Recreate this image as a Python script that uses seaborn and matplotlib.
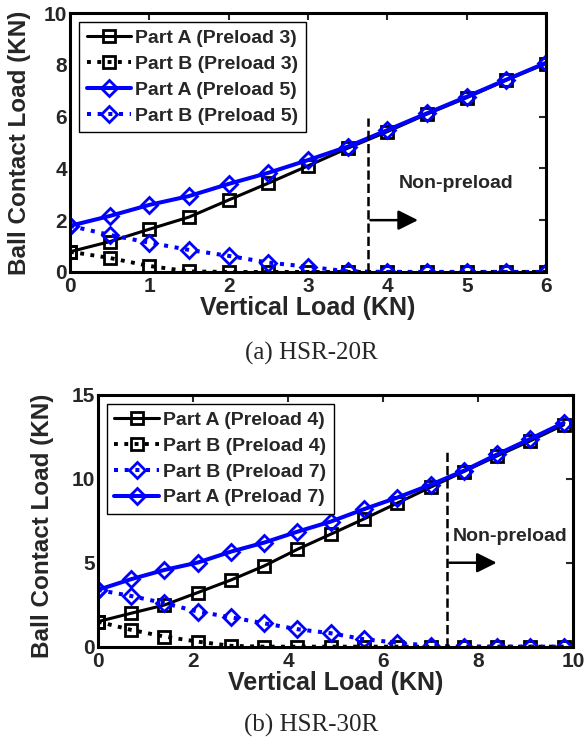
import numpy as np
import pandas as pd
import seaborn as sns
import matplotlib
matplotlib.use("Agg")
import matplotlib.pyplot as plt

# (a) HSR-20R
load_a = [0, 0.5, 1, 1.5, 2, 2.5, 3, 3.5, 4, 4.5, 5, 5.5, 6]
partA_p3 = [0.78, 1.17, 1.65, 2.12, 2.78, 3.43, 4.1, 4.78, 5.42, 6.1, 6.73, 7.41, 8.05]
partB_p3 = [0.78, 0.54, 0.23, 0.02, 0, 0, 0, 0, 0, 0, 0, 0, 0]
partA_p5 = [1.78, 2.16, 2.59, 2.93, 3.4, 3.83, 4.32, 4.84, 5.48, 6.13, 6.77, 7.43, 8.08]
partB_p5 = [1.78, 1.43, 1.13, 0.85, 0.62, 0.36, 0.2, 0.02, 0, 0, 0, 0, 0]

# (b) HSR-30R
load_b = [0, 0.7, 1.4, 2.1, 2.8, 3.5, 4.2, 4.9, 5.6, 6.3, 7.0, 7.7, 8.4, 9.1, 9.8]
partA_p4 = [1.49, 1.99, 2.48, 3.22, 3.97, 4.81, 5.8, 6.7, 7.61, 8.55, 9.5, 10.43, 11.36, 12.26, 13.21]
partB_p4 = [1.49, 1.0, 0.6, 0.3, 0.05, 0, 0, 0, 0, 0, 0, 0, 0, 0, 0]
partB_p7 = [3.38, 3.02, 2.59, 2.09, 1.75, 1.39, 1.04, 0.8, 0.44, 0.24, 0.05, 0, 0, 0, 0]
partA_p7 = [3.38, 4.02, 4.57, 5.01, 5.66, 6.2, 6.85, 7.45, 8.19, 8.88, 9.64, 10.48, 11.45, 12.38, 13.33]

sns.set_style("white")
plt.rcParams['font.family'] = ['Liberation Sans', 'DejaVu Sans']
plt.rcParams['font.weight'] = 'bold'

fig = plt.figure(figsize=(5.86, 7.45), dpi=100)
ax1 = fig.add_axes([0.1195, 0.635, 0.8125, 0.3475])
ax2 = fig.add_axes([0.167, 0.132, 0.811, 0.338])

BLUE = (0, 0, 1)


def draw(ax, x, y, label, color, ls, marker, lw, ms):
    sns.lineplot(x=x, y=y, ax=ax, label=label, color=color, linestyle=ls,
                 marker=marker, markersize=ms, markerfacecolor='none',
                 markeredgecolor=color, markeredgewidth=2.0,
                 linewidth=lw, errorbar=None, sort=False)


# top panel
draw(ax1, load_a, partA_p3, 'Part A (Preload 3)', 'k', '-', 's', 2.2, 8.5)
draw(ax1, load_a, partB_p3, 'Part B (Preload 3)', 'k', ':', 's', 2.8, 8.5)
draw(ax1, load_a, partA_p5, 'Part A (Preload 5)', BLUE, '-', 'D', 2.9, 8.5)
draw(ax1, load_a, partB_p5, 'Part B (Preload 5)', BLUE, ':', 'D', 2.9, 8.5)

# bottom panel
draw(ax2, load_b, partA_p4, 'Part A (Preload 4)', 'k', '-', 's', 2.2, 8.5)
draw(ax2, load_b, partB_p4, 'Part B (Preload 4)', 'k', ':', 's', 2.8, 8.5)
draw(ax2, load_b, partB_p7, 'Part B (Preload 7)', BLUE, ':', 'D', 2.9, 8.5)
draw(ax2, load_b, partA_p7, 'Part A (Preload 7)', BLUE, '-', 'D', 2.9, 8.5)

setup = [
    (ax1, (0, 6), (0, 10), [0, 1, 2, 3, 4, 5, 6], [0, 2, 4, 6, 8, 10],
     3.75, 5.94, 2.0, 4.42, (4.86, 3.4), (-0.082, 0.5)),
    (ax2, (0, 10), (0, 15), [0, 2, 4, 6, 8, 10], [0, 5, 10, 15],
     7.34, 11.6, 5.0, 8.45, (8.67, 6.55), (-0.092, 0.48)),
]
for ax, xl, yl, xt, yt, xv, ytop, yarr, xarr, txt, ylc in setup:
    ax.set_xlim(*xl)
    ax.set_ylim(*yl)
    ax.set_xticks(xt)
    ax.set_yticks(yt)
    ax.tick_params(direction='in', top=True, right=True, length=5, width=1.5,
                   labelsize=15)
    ax.tick_params(axis='x', pad=4)
    ax.tick_params(axis='y', pad=2)
    for s in ax.spines.values():
        s.set_linewidth(2.2)
        s.set_color('k')
        s.set_visible(True)
    ax.set_xlabel('Vertical Load (KN)', fontsize=18, fontweight='bold', labelpad=0)
    ax.set_ylabel('Ball Contact Load (KN)', fontsize=17.5, fontweight='bold')
    ax.yaxis.set_label_coords(*ylc)
    ax.plot([xv, xv], [0, ytop], color='k', linestyle='--', linewidth=1.8)
    ax.annotate('', xy=(xarr, yarr), xytext=(xv, yarr),
                arrowprops=dict(arrowstyle='-|>', color='k', lw=1.8, mutation_scale=30))
    ax.text(txt[0], txt[1], 'Non-preload', ha='center', va='center',
            fontsize=14, fontweight='bold')
    leg = ax.legend(loc='upper left', fontsize=14, handlelength=2.3,
                    borderaxespad=0.45, borderpad=0.4, labelspacing=0.42,
                    handletextpad=0.2, fancybox=False, framealpha=1)
    leg.get_frame().set_edgecolor('k')
    leg.get_frame().set_linewidth(1.0)
    for t in leg.get_texts():
        t.set_fontweight('bold')

fig.text(311 / 586, 1 - 353 / 745, '(a) HSR-20R', ha='center', va='center',
         fontsize=18, family=['Liberation Serif'], fontweight='normal')
fig.text(311 / 586, 1 - 725 / 745, '(b) HSR-30R', ha='center', va='center',
         fontsize=18, family=['Liberation Serif'], fontweight='normal')

fig.savefig('out.png', dpi=100)
